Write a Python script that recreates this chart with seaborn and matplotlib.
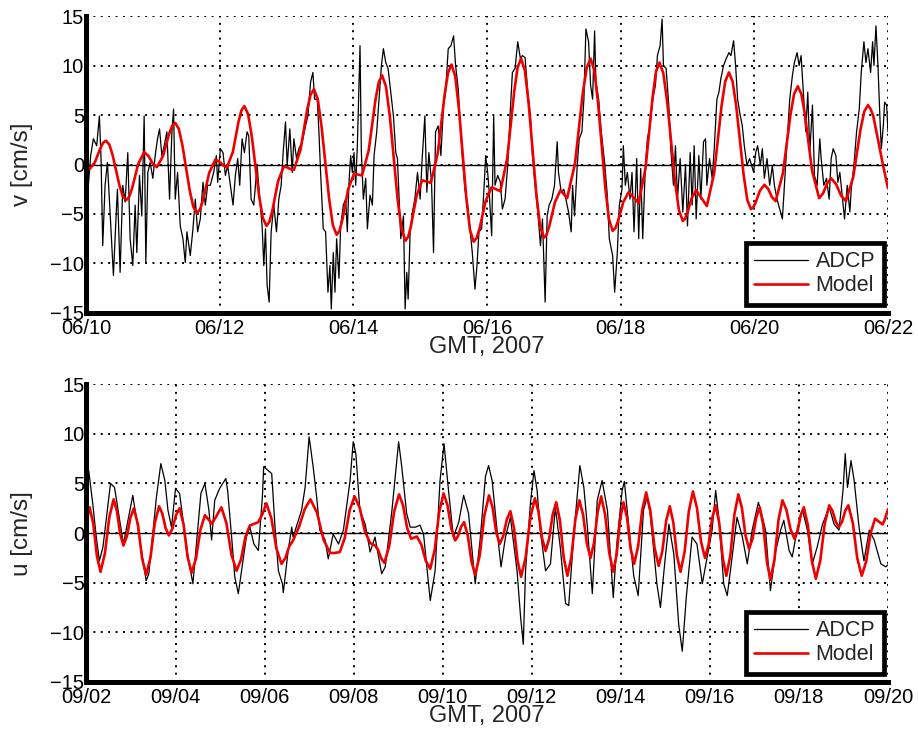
import numpy as np
import pandas as pd
import matplotlib
matplotlib.use("Agg")
import matplotlib.pyplot as plt
import seaborn as sns

# ---------------- data (day offset from panel start, value in cm/s) ----------------
top_start = "2007-06-10"
top_end = "2007-06-22"
bot_start = "2007-09-02"
bot_end = "2007-09-20"
top_xticklabels = ["06/10", "06/12", "06/14", "06/16", "06/18", "06/20", "06/22"]
bot_xticklabels = ["09/02", "09/04", "09/06", "09/08", "09/10", "09/12", "09/14",
                   "09/16", "09/18", "09/20"]
yticks = [-15, -10, -5, 0, 5, 10, 15]

top_adcp = [
    (0.00, -4.1), (0.035, -2.1), (0.07, 0.9), (0.11, 2.6), (0.16, 1.9), (0.20, 4.9),
    (0.225, 0.6), (0.25, -8.2), (0.285, -2.1), (0.32, 0.2), (0.36, -4.8), (0.41, -11.2),
    (0.45, -5.2), (0.47, -2.5), (0.51, -10.9), (0.55, -2.1), (0.585, -3.8), (0.625, 1.2),
    (0.66, -7.5), (0.70, -10.2), (0.735, -4.1), (0.76, -8.9), (0.80, -1.1), (0.835, -5.2),
    (0.87, 4.9), (0.895, -9.9), (0.925, -0.8), (0.96, 0.2), (1.00, -1.4), (1.035, 0.9),
    (1.07, 2.6), (1.10, 3.6), (1.135, 0.9), (1.17, 1.9), (1.21, 3.3), (1.25, -3.5),
    (1.285, 3.3), (1.31, 5.6), (1.335, -3.5), (1.37, -0.8), (1.41, -6.2), (1.45, -7.5),
    (1.485, -9.9), (1.51, -6.8), (1.56, -9.2), (1.60, -6.5), (1.635, -3.5), (1.67, -6.8),
    (1.71, -5.5), (1.75, -1.8), (1.785, -4.1), (1.82, -2.1), (1.86, -2.1), (1.91, -0.8),
    (1.95, 0.9), (1.97, -1.8), (2.01, 1.6), (2.05, 1.2), (2.085, -1.1), (2.12, -0.1),
    (2.16, -2.1), (2.20, -4.1), (2.235, -1.1), (2.27, 0.6), (2.30, -2.1), (2.335, 2.6),
    (2.37, 1.2), (2.41, 3.3), (2.435, 2.9), (2.47, -3.5), (2.51, -4.1), (2.56, -0.1),
    (2.60, -3.5), (2.635, -6.2), (2.66, -10.2), (2.685, -6.5), (2.71, -12.2), (2.74, -13.9),
    (2.77, -6.8), (2.81, -4.1), (2.85, -6.8), (2.885, -3.5), (2.92, -2.1), (2.95, 1.2),
    (2.985, 4.3), (3.01, -0.1), (3.05, 3.6), (3.085, -0.8), (3.11, 2.6), (3.15, 0.6),
    (3.185, 1.6), (3.235, 2.3), (3.285, 3.9), (3.32, 4.9), (3.36, 8.3), (3.395, 9.3),
    (3.42, 6.6), (3.46, 6.6), (3.485, 3.3), (3.51, -0.8), (3.55, -6.5), (3.585, -6.8),
    (3.62, -12.9), (3.65, -10.2), (3.67, -14.6), (3.70, -8.9), (3.725, -12.9), (3.75, -7.5),
    (3.785, -11.5), (3.81, -6.2), (3.85, -4.1), (3.885, -3.5), (3.91, -6.8), (3.935, -1.8),
    (3.96, 0.9), (3.985, -0.8), (4.01, 1.2), (4.035, -2.1), (4.06, 1.9), (4.10, 12.0),
    (4.12, 1.2), (4.15, -3.5), (4.185, -1.4), (4.21, -6.5), (4.25, -3.1), (4.285, -4.1),
    (4.31, 0.9), (4.35, 3.3), (4.385, 6.6), (4.42, 10.0), (4.45, 11.7), (4.485, 10.3),
    (4.52, 9.7), (4.56, 7.3), (4.60, 4.9), (4.635, 1.2), (4.66, 0.6), (4.685, -3.5),
    (4.71, -7.5), (4.75, -5.2), (4.775, -14.6), (4.80, -10.9), (4.82, -13.6), (4.85, -6.8),
    (4.885, -4.8), (4.92, -3.5), (4.96, -0.8), (5.00, -3.5), (5.03, 0.6), (5.07, 4.9),
    (5.10, -2.8), (5.13, 1.2), (5.17, -1.8), (5.20, -8.9), (5.23, 3.3), (5.27, 3.9),
    (5.31, 0.9), (5.35, 6.0), (5.38, 7.3), (5.42, 11.7), (5.46, 12.0), (5.50, 13.0),
    (5.53, 10.0), (5.57, 7.6), (5.60, 3.9), (5.63, 0.9), (5.67, -2.5), (5.71, -4.1),
    (5.75, -6.8), (5.78, -8.9), (5.82, -12.6), (5.85, -10.2), (5.88, -6.8), (5.92, -6.5),
    (5.96, -1.8), (5.98, 0.9), (6.01, -0.8), (6.03, -2.5), (6.07, -7.2), (6.10, 4.9),
    (6.12, -2.1), (6.16, -1.1), (6.20, -1.8), (6.23, -4.5), (6.27, -3.5), (6.31, -0.1),
    (6.35, 5.6), (6.38, 9.3), (6.42, 9.7), (6.46, 12.4), (6.50, 10.7), (6.53, 11.0),
    (6.57, 10.8), (6.61, 7.3), (6.65, 4.9), (6.68, 0.9), (6.72, -2.1), (6.76, -4.8),
    (6.80, -8.2), (6.83, -5.5), (6.87, -13.9), (6.90, -5.2), (6.93, -4.1), (6.97, -3.5),
    (7.01, -2.1), (7.05, 2.3), (7.07, -0.8), (7.11, -2.8), (7.15, -2.5), (7.18, -3.5),
    (7.22, -4.8), (7.26, -6.8), (7.28, -2.1), (7.31, -5.2), (7.35, -0.1), (7.38, 2.6),
    (7.42, 3.3), (7.45, 6.6), (7.48, 13.7), (7.52, 12.4), (7.55, 8.0), (7.58, 6.6),
    (7.61, 13.5), (7.63, 8.3), (7.67, 6.6), (7.71, 3.3), (7.76, 0.2), (7.80, -3.1),
    (7.83, -7.5), (7.88, -9.2), (7.91, -12.9), (7.95, -8.9), (7.98, -4.1), (8.02, -2.5),
    (8.04, 1.9), (8.07, -2.1), (8.10, -0.8), (8.14, -3.5), (8.17, -0.8), (8.20, -6.8),
    (8.24, 0.6), (8.27, -7.5), (8.30, -0.4), (8.33, -7.5), (8.37, -0.1), (8.40, 2.6),
    (8.44, 3.9), (8.48, 6.6), (8.52, 8.0), (8.55, 11.0), (8.59, 12.0), (8.62, 14.7),
    (8.64, 10.0), (8.68, 9.7), (8.72, 6.0), (8.75, 1.6), (8.79, -2.1), (8.82, 1.9),
    (8.85, -3.5), (8.89, 0.6), (8.93, -4.8), (8.97, -0.1), (9.00, -6.2), (9.04, 1.2),
    (9.07, -4.1), (9.10, 1.9), (9.13, -5.5), (9.17, 0.9), (9.20, -3.5), (9.24, 2.3),
    (9.27, 2.6), (9.29, -2.1), (9.33, 0.6), (9.37, -1.4), (9.40, 1.6), (9.44, 6.6),
    (9.47, 7.3), (9.50, 8.7), (9.54, 10.0), (9.58, 10.7), (9.62, 11.3), (9.65, 11.0),
    (9.69, 12.5), (9.72, 10.0), (9.75, 6.6), (9.78, 5.3), (9.82, 3.9), (9.85, 1.9),
    (9.89, -0.1), (9.93, 0.6), (9.96, -0.1), (9.99, -0.8), (10.02, 1.2), (10.05, 1.9),
    (10.09, -0.1), (10.12, 1.6), (10.15, -1.4), (10.19, 0.6), (10.23, -2.1), (10.27, -0.1),
    (10.30, -2.1), (10.34, -3.5), (10.38, -4.5), (10.42, -5.5), (10.45, -2.1), (10.49, 2.3),
    (10.53, 6.6), (10.57, 9.0), (10.60, 10.3), (10.64, 11.3), (10.67, 10.0), (10.70, 11.0),
    (10.74, 6.6), (10.77, 3.3), (10.80, 7.3), (10.83, 1.2), (10.87, 6.0), (10.90, -1.1),
    (10.94, -2.1), (10.98, 2.6), (11.00, 0.6), (11.04, -2.1), (11.08, -1.4), (11.12, -3.5),
    (11.15, 0.6), (11.18, 1.6), (11.22, 0.9), (11.25, -1.8), (11.28, -0.8), (11.32, -3.5),
    (11.35, -5.5), (11.39, -2.1), (11.43, -4.8), (11.45, -2.5), (11.49, -0.1), (11.53, 3.3),
    (11.57, 5.6), (11.60, 9.3), (11.64, 12.4), (11.67, 10.3), (11.70, 11.7), (11.74, 9.3),
    (11.77, 12.4), (11.79, 10.0), (11.82, 14.0), (11.85, 10.0), (11.88, 4.6), (11.90, 1.6),
    (11.93, 3.9), (11.95, 6.3), (11.98, 6.0), (12.00, 3.3),
]

top_model = [
    (0.00, -0.4), (0.05, -0.5), (0.133, 0.23), (0.217, 1.68), (0.258, 2.21), (0.30, 2.4),
    (0.35, 2.0), (0.40, 0.9), (0.50, -2.1), (0.55, -3.2), (0.60, -3.6), (0.645, -3.28),
    (0.69, -2.39), (0.78, 0.04), (0.87, 1.25), (0.933, 0.87),
    (0.997, 0.11), (1.06, -0.27), (1.152, 0.85), (1.243, 3.08), (1.289, 3.9), (1.335, 4.2),
    (1.389, 3.59), (1.443, 1.92), (1.552, -2.63), (1.606, -4.29), (1.66, -4.9), (1.706, -4.54),
    (1.752, -3.55), (1.843, -0.85), (1.935, 0.5), (1.993, 0.31),
    (2.052, -0.08), (2.11, -0.27), (2.197, 1.27), (2.283, 4.36), (2.327, 5.49), (2.37, 5.9),
    (2.425, 5.09), (2.48, 2.87), (2.59, -3.18), (2.645, -5.39), (2.70, -6.2), (2.743, -5.8),
    (2.787, -4.7), (2.873, -1.7), (2.96, -0.2), (3.01, -0.29),
    (3.06, -0.46), (3.11, -0.55), (3.21, 1.49), (3.31, 5.56), (3.36, 7.05), (3.41, 7.6),
    (3.467, 6.62), (3.523, 3.92), (3.637, -3.43), (3.693, -6.12), (3.75, -7.1), (3.793, -6.69),
    (3.837, -5.56), (3.923, -2.48), (4.01, -0.94), (4.07, -1.02),
    (4.13, -1.1), (4.23, 1.43), (4.33, 6.48), (4.38, 8.32), (4.43, 9.0), (4.488, 7.88),
    (4.547, 4.82), (4.663, -3.53), (4.722, -6.58), (4.78, -7.7), (4.822, -7.29),
    (4.863, -6.18), (4.947, -3.13), (5.03, -1.6), (5.095, -1.72), (5.16, -1.85),
    (5.263, 1.14), (5.367, 7.11), (5.418, 9.3), (5.47, 10.1), (5.525, 8.9), (5.58, 5.62),
    (5.69, -3.33), (5.745, -6.6), (5.80, -7.8), (5.845, -7.43),
    (5.89, -6.43), (5.98, -3.68), (6.07, -2.3), (6.135, -2.5), (6.20, -2.7), (6.303, 0.65),
    (6.407, 7.35), (6.458, 9.8), (6.51, 10.7), (6.567, 9.49), (6.623, 6.17), (6.737, -2.88),
    (6.793, -6.19), (6.85, -7.4), (6.892, -7.08), (6.933, -6.2),
    (7.017, -3.8), (7.10, -2.6), (7.15, -3.0), (7.20, -3.4), (7.317, 0.13), (7.433, 7.18),
    (7.492, 9.76), (7.55, 10.7), (7.605, 9.53), (7.66, 6.35), (7.77, -2.35), (7.825, -5.53),
    (7.88, -6.7), (7.92, -6.44), (7.96, -5.73), (8.04, -3.78),
    (8.12, -2.8), (8.195, -3.35), (8.27, -3.9), (8.373, -0.35), (8.477, 6.75), (8.528, 9.35),
    (8.58, 10.3), (8.638, 9.23), (8.697, 6.3), (8.813, -1.7), (8.872, -4.63), (8.93, -5.7),
    (8.963, -5.49), (8.997, -4.93), (9.063, -3.38), (9.13, -2.6),
    (9.21, -3.4), (9.29, -4.2), (9.40, -0.82), (9.51, 5.93), (9.565, 8.4), (9.62, 9.3),
    (9.675, 8.38), (9.73, 5.85), (9.84, -1.05), (9.895, -3.58), (9.95, -4.5), (9.983, -4.34),
    (10.017, -3.89), (10.083, -2.66), (10.15, -2.05),
    (10.207, -2.46), (10.263, -3.29), (10.32, -3.7), (10.43, -0.8), (10.54, 5.0),
    (10.595, 7.12), (10.65, 7.9), (10.703, 7.14), (10.757, 5.07), (10.863, -0.58),
    (10.97, -3.4), (11.03, -2.9), (11.09, -1.9),
    (11.15, -1.4), (11.223, -1.98), (11.297, -3.13), (11.37, -3.7), (11.48, -1.27),
    (11.59, 3.58), (11.645, 5.35), (11.70, 6.0), (11.74, 5.6), (11.78, 4.9), (11.86, 2.2),
    (11.93, -0.2), (12.00, -2.4),
]

bot_adcp = [
    (0.00, 1.5), (0.05, 6.3), (0.14, 3.0), (0.22, -0.4), (0.29, -2.8), (0.37, -1.4),
    (0.54, 5.0), (0.63, 4.6), (0.83, -1.1), (1.04, 3.8), (1.34, -4.8), (1.40, -4.1),
    (1.57, 3.6), (1.67, 7.0), (1.76, 5.3), (1.83, 2.3), (1.91, 0.6), (2.00, 4.5),
    (2.09, 4.0), (2.28, -2.4), (2.39, -5.1), (2.57, 4.0), (2.66, 5.0), (2.75, 2.3),
    (2.81, -0.7), (2.88, 3.3), (2.99, 4.5), (3.13, 5.5), (3.17, 4.3), (3.26, -0.4),
    (3.33, -4.4), (3.41, -6.1), (3.59, -0.4), (3.67, 0.6), (3.76, -1.1), (3.86, -1.75),
    (3.95, 3.6), (3.98, 6.7), (4.08, 6.3), (4.16, 6.0), (4.23, 0.9), (4.31, -3.8),
    (4.40, -5.1), (4.42, -6.0), (4.53, -1.75), (4.61, 0.6), (4.64, -0.4), (4.76, 1.3),
    (4.83, 2.3), (4.91, 4.6), (5.00, 9.7), (5.06, 7.7), (5.09, 6.7), (5.17, 3.6),
    (5.24, 0.3), (5.36, -0.7), (5.43, -2.6), (5.54, -0.1), (5.66, -1.1), (5.77, 0.3),
    (5.92, 5.3), (5.99, 9.2), (6.05, 8.0), (6.14, 2.3), (6.26, 0.9), (6.37, -1.9),
    (6.48, -0.4), (6.63, -4.1), (6.71, -3.4), (6.86, 2.3), (7.01, 9.2), (7.08, 6.7),
    (7.19, 2.0), (7.27, 0.6), (7.39, 0.6), (7.49, 0.8), (7.57, -0.1), (7.72, -6.8),
    (7.83, -3.8), (7.94, 5.3), (8.03, 9.0), (8.13, 4.3), (8.24, -0.4), (8.36, 1.1),
    (8.47, 3.8), (8.58, 2.0), (8.73, -5.1), (8.84, -0.7), (8.96, 5.7), (9.03, 6.8),
    (9.11, 5.3), (9.22, 0.3), (9.31, -3.4), (9.41, -0.4), (9.52, 1.6), (9.67, -3.8),
    (9.75, -8.5), (9.81, -11.2), (9.86, -3.8), (9.97, 3.0), (10.05, 6.3), (10.12, 4.3),
    (10.19, 0.3), (10.31, -3.8), (10.42, -3.1), (10.53, 2.6), (10.64, -1.4), (10.76, -7.1),
    (10.83, -7.3), (10.94, -0.4), (11.08, 6.8), (11.17, 4.6), (11.25, 0.6), (11.36, -6.1),
    (11.47, 3.3), (11.58, 5.3), (11.70, 2.3), (11.83, -6.5), (11.91, -1.1), (12.03, 4.3),
    (12.08, 5.2), (12.18, 0.6), (12.29, -4.3), (12.39, -6.3), (12.51, 2.3), (12.59, 3.6),
    (12.66, 2.0), (12.81, -5.1), (12.89, -7.5), (13.00, -2.4), (13.08, 0.9), (13.19, -2.1),
    (13.30, -9.2), (13.38, -11.9), (13.47, -6.5), (13.60, -0.4), (13.71, -1.1), (13.83, -5.1),
    (13.94, -2.4), (14.05, 0.3), (14.13, 4.3), (14.20, 1.6), (14.31, -5.1), (14.39, -6.3),
    (14.50, -2.4), (14.61, 1.6), (14.73, -0.4), (14.84, -3.1), (14.95, 0.3), (15.09, 3.1),
    (15.18, 1.6), (15.25, 0.3), (15.36, -5.8), (15.48, -1.75), (15.59, 0.3), (15.66, 1.3),
    (15.78, -1.75), (15.85, -2.4), (15.97, 0.6), (16.08, 2.3), (16.19, 0.3), (16.30, -3.1),
    (16.41, -1.4), (16.53, 0.9), (16.68, 2.6), (16.79, 0.9), (16.90, 0.3), (16.99, 4.3),
    (17.04, 8.0), (17.09, 4.6), (17.17, 7.3), (17.24, 5.3), (17.35, 0.6), (17.46, -2.8),
    (17.58, 0.3), (17.69, -0.7), (17.84, -3.1), (17.95, -3.4), (18.00, -3.2),
]

bot_model = [
    (0.00, 1.2), (0.07, 2.6), (0.152, 0.97), (0.233, -2.28), (0.315, -3.9), (0.413, -2.07),
    (0.512, 1.58), (0.61, 3.4), (0.683, 2.24), (0.757, -0.09), (0.83, -1.25), (0.908, -0.31),
    (0.987, 1.56), (1.065, 2.5), (1.157, 0.83), (1.248, -2.53), (1.34, -4.2), (1.437, -2.48),
    (1.533, 0.98), (1.63, 2.7), (1.703, 1.97), (1.777, 0.5), (1.85, -0.24), (1.93, 0.45),
    (2.01, 1.81), (2.09, 2.5), (2.18, 0.88), (2.27, -2.38), (2.36, -4.0), (2.46, -2.55),
    (2.56, 0.35), (2.66, 1.8), (2.74, 1.38), (2.82, 0.95), (2.925, 1.78), (3.03, 2.6),
    (3.143, 1.0), (3.257, -2.2), (3.37, -3.8), (3.47, -2.66), (3.57, -0.37), (3.67, 0.77),
    (3.86, 1.1), (3.95, 1.9), (4.04, 3.0), (4.153, 1.48), (4.267, -1.58), (4.38, -3.1),
    (4.467, -2.5), (4.553, -1.34), (4.64, -0.74), (4.77, 0.6), (4.90, 2.4), (5.03, 3.4),
    (5.177, 2.05), (5.323, -0.65), (5.47, -2.0), (5.58, -2.0), (5.69, -1.9), (5.80, -0.5),
    (5.91, 2.3), (6.02, 3.7), (6.137, 2.53), (6.253, 0.18), (6.37, -1.0), (6.48, -1.25),
    (6.55, -1.7), (6.62, -2.55), (6.69, -3.0), (6.80, -1.28), (6.91, 2.18), (7.02, 3.9),
    (7.11, 2.78), (7.20, 0.55), (7.29, -0.57), (7.42, -0.35), (7.52, -1.16), (7.62, -2.79),
    (7.72, -3.6), (7.82, -1.7), (7.92, 2.1), (8.02, 4.0), (8.107, 2.82), (8.193, 0.45),
    (8.28, -0.74), (8.347, -0.28), (8.413, 0.64), (8.48, 1.1), (8.563, -0.23), (8.647, -2.88),
    (8.73, -4.2), (8.833, -2.2), (8.937, 1.8), (9.04, 3.8), (9.12, 2.58), (9.20, 0.13),
    (9.28, -1.1), (9.36, -0.28), (9.44, 1.38), (9.52, 2.2), (9.60, 0.55), (9.68, -2.75),
    (9.76, -4.4), (9.863, -2.43), (9.967, 1.53), (10.07, 3.5), (10.15, 2.18), (10.23, -0.48),
    (10.31, -1.8), (10.39, -0.58), (10.47, 1.88), (10.55, 3.1), (10.633, 1.25), (10.717, -2.45),
    (10.80, -4.3), (10.89, -2.4), (10.98, 1.4), (11.07, 3.3), (11.153, 1.85), (11.237, -1.05),
    (11.32, -2.5), (11.40, -0.95), (11.48, 2.15), (11.56, 3.7), (11.65, 1.8), (11.74, -2.0),
    (11.83, -3.9), (11.907, -2.15), (11.983, 1.35), (12.06, 3.1), (12.14, 1.55), (12.22, -1.55),
    (12.30, -3.1), (12.39, -1.3), (12.48, 2.3), (12.57, 4.1), (12.663, 2.25), (12.757, -1.45),
    (12.85, -3.3), (12.933, -1.8), (13.017, 1.2), (13.10, 2.7), (13.18, 1.05), (13.26, -2.25),
    (13.34, -3.9), (13.433, -1.88), (13.527, 2.18), (13.62, 4.2), (13.71, 2.53), (13.80, -0.83),
    (13.89, -2.5), (13.97, -1.18), (14.05, 1.48), (14.13, 2.8), (14.21, 1.03), (14.29, -2.53),
    (14.37, -4.3), (14.46, -2.25), (14.55, 1.85), (14.64, 3.9), (14.72, 2.53), (14.80, -0.23),
    (14.88, -1.6), (14.96, -0.55), (15.04, 1.55), (15.12, 2.6), (15.20, 0.78), (15.28, -2.88),
    (15.36, -4.7), (15.45, -2.7), (15.54, 1.3), (15.63, 3.3), (15.72, 2.33), (15.81, 0.4),
    (15.90, -0.57), (15.97, 0.22), (16.04, 1.81), (16.11, 2.6), (16.20, 0.8), (16.29, -2.8),
    (16.38, -4.6), (16.48, -2.75), (16.58, 0.95), (16.68, 2.8), (16.753, 2.25), (16.827, 1.15),
    (16.90, 0.6), (16.97, 1.15), (17.04, 2.25), (17.11, 2.8), (17.21, 1.03), (17.31, -2.53),
    (17.41, -4.3), (17.51, -2.86), (17.61, 0.01), (17.71, 1.45), (17.795, 1.16), (17.88, 0.87),
    (17.94, 1.5), (18.00, 2.4),
]


def to_frame(pairs, start, col):
    arr = np.array(sorted(pairs), dtype=float)
    t = pd.Timestamp(start) + pd.to_timedelta(arr[:, 0], unit="D")
    return pd.DataFrame({"time": t, col: arr[:, 1]})


# ---------------- style ----------------
sns.set_style("white")
plt.rcParams["font.family"] = ["Liberation Sans", "DejaVu Sans"]
plt.rcParams["axes.unicode_minus"] = True

fig = plt.figure(figsize=(9.18, 7.38), dpi=100)
ax_top = fig.add_axes([0.0937, 0.5759, 0.8736, 0.4024])
ax_bot = fig.add_axes([0.0942, 0.0759, 0.8731, 0.4035])

panels = [
    (ax_top, top_adcp, top_model, top_start, top_end, top_xticklabels, "v [cm/s]"),
    (ax_bot, bot_adcp, bot_model, bot_start, bot_end, bot_xticklabels, "u [cm/s]"),
]

for ax, adcp, model, start, end, xlabels, ylab in panels:
    col = ylab.split()[0]
    df_a = to_frame(adcp, start, col)
    df_m = to_frame(model, start, col)
    ax.axhline(0, color="black", lw=1.0, zorder=1)
    sns.lineplot(data=df_a, x="time", y=col, ax=ax, color="black", lw=0.9,
                 label="ADCP", estimator=None, sort=False, zorder=3)
    sns.lineplot(data=df_m, x="time", y=col, ax=ax, color="#ee0000", lw=1.9,
                 label="Model", estimator=None, sort=False, zorder=4)

    ticks = pd.date_range(start, end, freq="2D")
    ax.set_xlim(pd.Timestamp(start), pd.Timestamp(end))
    ax.set_xticks(ticks)
    ax.set_xticklabels(xlabels)
    ax.set_ylim(-15, 15)
    ax.set_yticks(yticks)

    ax.grid(True, color="black", linestyle=(0, (1.0, 2.8)), linewidth=1.4, zorder=0)
    ax.set_axisbelow(True)

    for s in ["top", "right"]:
        ax.spines[s].set_visible(False)
    for s in ["left", "bottom"]:
        ax.spines[s].set_linewidth(3.6)
        ax.spines[s].set_color("black")
        ax.spines[s].set_zorder(6)

    ax.tick_params(axis="both", direction="in", length=6, width=3.2,
                   labelsize=14.5, colors="black")
    ax.tick_params(axis="x", pad=4)
    ax.tick_params(axis="y", pad=1.5)
    ax.set_xlabel("GMT, 2007", fontsize=17, labelpad=-1)
    ax.set_ylabel(ylab, fontsize=17.5, labelpad=12.5)

    leg = ax.legend(loc="lower right", bbox_to_anchor=(0.995, 0.028), borderaxespad=0,
                    frameon=True, fancybox=False, fontsize=15.5,
                    handlelength=2.5, handletextpad=0.35, borderpad=0.4,
                    labelspacing=0.12, framealpha=1)
    leg.get_frame().set_edgecolor("black")
    leg.get_frame().set_linewidth(3.4)
    leg.set_zorder(10)

fig.savefig("out.png", dpi=100)
